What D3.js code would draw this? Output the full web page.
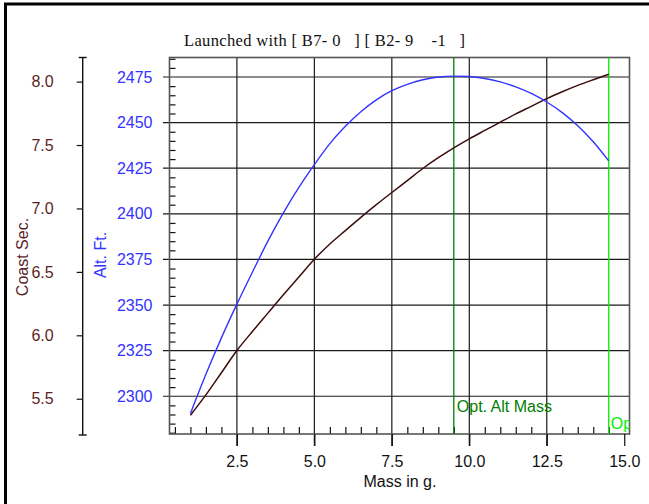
<!DOCTYPE html>
<html>
<head>
<meta charset="utf-8">
<script src="https://cdn.jsdelivr.net/npm/d3@7"></script>
<style>
body { margin: 0; background: #fff; }
svg { display: block; }
text { font-family: "Liberation Sans", Arial, sans-serif; }
</style>
</head>
<body>
<div id="chart"></div>
<script>
// data
var masses = [1.0, 1.5, 2.0, 2.5, 3.0, 3.5, 4.0, 4.5, 5.0, 5.5, 6.0, 6.5, 7.0, 7.5,
    8.0, 8.5, 9.0, 9.5, 10.0, 10.5, 11.0, 11.5, 12.0, 12.5, 13.0, 13.5, 14.0, 14.5];
var altFt = [2290.5, 2312, 2332, 2350.5, 2368, 2385, 2400.5, 2414.5, 2427, 2438.5,
    2448, 2456, 2462.5, 2467.5, 2471, 2473.5, 2475, 2475.5, 2475.3, 2474.2, 2472.3,
    2469.6, 2466, 2461.3, 2455.5, 2448.3, 2439.5, 2429];
var coastSec = [5.37, 5.53, 5.705, 5.88, 6.03, 6.175, 6.32, 6.46, 6.6, 6.72, 6.825,
    6.93, 7.03, 7.126, 7.22, 7.315, 7.4, 7.478, 7.549, 7.615, 7.68, 7.745, 7.805,
    7.866, 7.92, 7.97, 8.015, 8.058];
var xTicks = [2.5, 5.0, 7.5, 10.0, 12.5, 15.0];
var altTicks = [2300, 2325, 2350, 2375, 2400, 2425, 2450, 2475];
var coastTicks = [5.5, 6.0, 6.5, 7.0, 7.5, 8.0];
var optAltMass = 9.5;
var optCoastMass = 14.5;
var title = "Launched with [ B7- 0   ] [ B2- 9    -1   ]";

var width = 649, height = 504;
var plotLeft = 169.5, plotRight = 629.5, plotTop = 57.5, plotBottom = 434;
var fontSize = "16px";

var svg = d3.select("#chart").append("svg").attr("width", width).attr("height", height);

// outer frame, only top and left edges are inside the picture
svg.append("rect").attr("x", 5.5).attr("y", 4).attr("width", 700).attr("height", 600)
    .style("fill", "none").style("stroke", "#000").style("stroke-width", 3);

var x = d3.scaleLinear().domain([0.325, 15.17]).range([plotLeft, plotRight]);
var alt = d3.scaleLinear().domain([2279.3, 2485.7]).range([plotBottom, plotTop]);
var coast = d3.scaleLinear().domain([5.222, 8.19]).range([plotBottom, plotTop]);

// title
svg.append("text").attr("x", 184).attr("y", 46)
    .style("font-family", "'Liberation Serif', 'DejaVu Serif', serif")
    .style("font-size", "16.5px").style("letter-spacing", "0.35px")
    .style("white-space", "pre").style("fill", "#111")
    .text(title);

// grid
var gridColor = "#1a1a1a";
svg.append("g").selectAll("line").data(altTicks).enter().append("line")
    .attr("x1", 163).attr("x2", plotRight)
    .attr("y1", function(d) { return alt(d); }).attr("y2", function(d) { return alt(d); })
    .style("stroke", gridColor).style("stroke-width", 1.2);

svg.append("g").selectAll("line").data(xTicks.slice(0, 5)).enter().append("line")
    .attr("x1", function(d) { return x(d); }).attr("x2", function(d) { return x(d); })
    .attr("y1", plotTop).attr("y2", plotBottom + 12)
    .style("stroke", gridColor).style("stroke-width", 1.2);

// minor ticks inside the plot
var altMinor = d3.range(2280, 2486, 5).filter(function(d) { return d % 25 != 0; });
var xMinor = d3.range(0.5, 15, 0.5).filter(function(d) { return d % 2.5 != 0; });

svg.append("g").attr("transform", "translate(" + plotLeft + ",0)")
    .call(d3.axisRight(alt).tickValues(altMinor).tickSize(6).tickFormat(""))
    .call(function(g) { g.select(".domain").remove(); })
    .selectAll("line").style("stroke", "#111").style("stroke-width", 1.2);

svg.append("g").attr("transform", "translate(0," + plotBottom + ")")
    .call(d3.axisTop(x).tickValues(xMinor).tickSize(7).tickFormat(""))
    .call(function(g) { g.select(".domain").remove(); })
    .selectAll("line").style("stroke", "#111").style("stroke-width", 1.2);

// plot frame
svg.append("rect").attr("x", plotLeft).attr("y", plotTop)
    .attr("width", plotRight - plotLeft).attr("height", plotBottom - plotTop)
    .style("fill", "none").style("stroke", "#555").style("stroke-width", 1.6);

// x axis labels and the 15.0 tick
var xAxis = svg.append("g").attr("transform", "translate(0," + plotBottom + ")")
    .call(d3.axisBottom(x).tickValues(xTicks).tickSize(12).tickPadding(10).tickFormat(d3.format(".1f")));
xAxis.select(".domain").remove();
xAxis.selectAll("line").style("stroke", "#111").style("stroke-width", 1.2);
xAxis.selectAll("text").style("font-size", fontSize).style("fill", "#111")
    .style("font-family", "'Liberation Sans', Arial, sans-serif");

svg.append("text").attr("x", 400).attr("y", 487).attr("text-anchor", "middle")
    .style("font-size", fontSize).style("fill", "#111").text("Mass in g.");

// altitude axis
var altAxis = svg.append("g").attr("transform", "translate(" + plotLeft + ",0)")
    .call(d3.axisLeft(alt).tickValues(altTicks).tickSize(7).tickPadding(10).tickFormat(d3.format("d")));
altAxis.select(".domain").remove();
altAxis.selectAll("line").remove();
altAxis.selectAll("text").style("font-size", fontSize).style("fill", "#3333ff")
    .style("font-family", "'Liberation Sans', Arial, sans-serif");

svg.append("text").attr("transform", "translate(105.5,255) rotate(-90)")
    .attr("text-anchor", "middle").style("font-size", fontSize).style("fill", "#3333ff")
    .text("Alt. Ft.");

// coast axis
var coastX = 82.7;
var coastAxis = svg.append("g").attr("transform", "translate(" + coastX + ",0)")
    .call(d3.axisLeft(coast).tickValues(coastTicks).tickSize(6).tickPadding(23).tickFormat(d3.format(".1f")));
coastAxis.select(".domain").remove();
coastAxis.selectAll("line").style("stroke", "#111").style("stroke-width", 1.2);
coastAxis.selectAll("text").style("font-size", fontSize).style("fill", "#5c1f1f")
    .style("font-family", "'Liberation Sans', Arial, sans-serif");
svg.append("line").attr("x1", coastX).attr("x2", coastX).attr("y1", plotTop).attr("y2", plotBottom + 1)
    .style("stroke", "#111").style("stroke-width", 1.4);
[plotTop, plotBottom + 1].forEach(function(y) {
    svg.append("line").attr("x1", coastX - 4).attr("x2", coastX + 4).attr("y1", y).attr("y2", y)
        .style("stroke", "#111").style("stroke-width", 1.4);
});

svg.append("text").attr("transform", "translate(27.5,257) rotate(-90)")
    .attr("text-anchor", "middle").style("font-size", fontSize).style("fill", "#5c1f1f")
    .text("Coast Sec.");

// clipped plot contents
svg.append("clipPath").attr("id", "plotClip").append("rect")
    .attr("x", plotLeft).attr("y", plotTop).attr("width", plotRight - plotLeft).attr("height", plotBottom - plotTop);
var plot = svg.append("g").attr("clip-path", "url(#plotClip)");

plot.append("line").attr("x1", x(optAltMass)).attr("x2", x(optAltMass))
    .attr("y1", plotTop).attr("y2", plotBottom).style("stroke", "#008000").style("stroke-width", 1.3);
plot.append("line").attr("x1", x(optCoastMass)).attr("x2", x(optCoastMass))
    .attr("y1", plotTop).attr("y2", plotBottom).style("stroke", "#00ee00").style("stroke-width", 1.3);

plot.append("text").attr("x", x(optAltMass) + 3).attr("y", 411.5)
    .style("font-size", fontSize).style("fill", "#008000").text("Opt. Alt Mass");
// the reference only shows the start of this label, the rest is cut by the frame
plot.append("text").attr("x", x(optCoastMass) + 2).attr("y", 428.5)
    .style("font-size", fontSize).style("fill", "#00ee00").text("Op");

var altLine = d3.line()
    .x(function(d, i) { return x(masses[i]); })
    .y(function(d) { return alt(d); })
    .curve(d3.curveMonotoneX);
var coastLine = d3.line()
    .x(function(d, i) { return x(masses[i]); })
    .y(function(d) { return coast(d); })
    .curve(d3.curveMonotoneX);

plot.append("path").datum(coastSec).attr("d", coastLine)
    .style("fill", "none").style("stroke", "#3d0c0c").style("stroke-width", 1.5);
plot.append("path").datum(altFt).attr("d", altLine)
    .style("fill", "none").style("stroke", "#3333ff").style("stroke-width", 1.4);
</script>
</body>
</html>
